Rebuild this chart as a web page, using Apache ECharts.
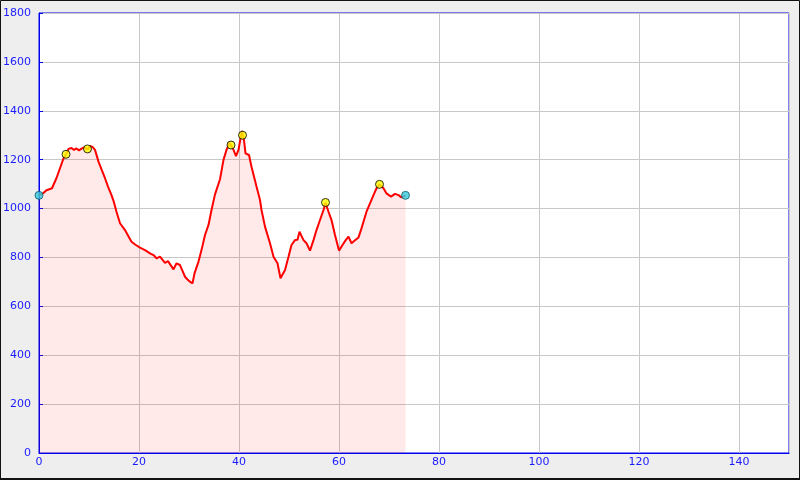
<!DOCTYPE html>
<html>
<head>
<meta charset="utf-8">
<script src="https://cdn.jsdelivr.net/npm/echarts@6/dist/echarts.min.js"></script>
<style>
html,body{margin:0;padding:0;background:#eeeeee;}
#chart{width:800px;height:480px;}
</style>
</head>
<body>
<div id="chart"></div>
<script>
// Distance along route (km)
const distKm = [0,0.7,1.5,2.6,2.9,3.5,4.2,4.9,5.4,5.9,6.5,7.0,7.5,8.0,8.5,9.0,9.7,10.2,10.7,11.2,11.9,12.5,13.2,13.8,14.5,15.0,15.5,16.2,17.2,17.8,18.5,19.3,20.2,21.2,22.2,23.0,23.5,24.2,25.2,25.8,26.2,26.9,27.5,28.2,28.7,29.2,29.7,30.2,30.7,31.1,31.9,32.5,33.2,33.9,34.5,35.2,36.2,36.9,37.5,38.1,38.5,38.9,39.4,39.9,40.3,40.6,41.0,41.3,42.0,42.5,43.5,44.2,44.5,45.2,46.2,46.9,47.7,48.3,49.2,49.9,50.5,51.2,51.7,52.1,52.9,53.5,54.2,54.9,55.5,56.2,56.9,57.3,57.9,58.5,59.2,60.0,60.7,61.3,61.9,62.5,63.2,63.9,64.5,65.5,66.2,66.9,67.5,68.1,68.9,69.5,70.4,71.2,71.9,72.4,73.3];
// Elevation (m)
const elevM = [1054,1061,1075,1083,1090,1125,1165,1205,1222,1244,1248,1240,1246,1238,1245,1250,1242,1256,1252,1240,1192,1160,1124,1090,1055,1025,987,940,912,890,864,852,840,830,817,808,796,803,778,785,790,751,776,769,745,721,710,701,694,735,783,830,892,933,994,1058,1120,1199,1240,1270,1262,1240,1215,1240,1287,1317,1280,1226,1219,1171,1090,1035,994,926,858,803,776,715,749,803,851,871,872,905,871,858,828,871,912,953,994,1024,987,953,892,828,851,870,885,858,870,882,919,987,1021,1055,1083,1099,1083,1062,1049,1060,1055,1046,1054];
// Start / end markers
const endX = [0, 73.3];
const endY = [1054, 1054];
// Summit markers
const peakX = [5.4, 9.7, 38.4, 40.7, 57.3, 68.1];
const peakY = [1222, 1244, 1260, 1300, 1025, 1099];

const zip = (a, b) => a.map((v, i) => [v, b[i]]);
const blue = '#1a1aff';

const chart = echarts.init(document.getElementById('chart'));
chart.setOption({
  backgroundColor: '#eeeeee',
  animation: false,
  textStyle: { fontFamily: 'DejaVu Sans' },
  grid: {
    left: 39, right: 11, top: 13, bottom: 27,
    containLabel: false, outerBoundsMode: 'none',
    show: true, backgroundColor: '#ffffff', borderColor: '#0000ee', borderWidth: 1
  },
  xAxis: {
    type: 'value', min: 0, max: 150, interval: 20,
    axisLine: { show: true, lineStyle: { color: '#0000ee', width: 1 } },
    axisTick: { show: false },
    axisLabel: { color: blue, fontSize: 11, margin: 4, showMaxLabel: false, fontFamily: 'DejaVu Sans',
      formatter: v => String(v) },
    splitLine: { show: true, lineStyle: { color: '#c8c8c8', width: 1 } }
  },
  yAxis: {
    type: 'value', min: 0, max: 1800, interval: 200,
    axisLine: { show: true, lineStyle: { color: '#0000ee', width: 1 } },
    axisTick: { show: true, inside: true, length: 4, lineStyle: { color: '#0000ee' } },
    axisLabel: { color: blue, fontSize: 11, margin: 8, fontFamily: 'DejaVu Sans',
      formatter: v => String(v) },
    splitLine: { show: true, lineStyle: { color: '#c8c8c8', width: 1 } }
  },
  graphic: [
    { type: 'rect', silent: true, z: 100, shape: { x: 0.5, y: 0.5, width: 799, height: 478.5 },
      style: { fill: 'none', stroke: '#111', lineWidth: 1 } },
    { type: 'line', silent: true, z: 100, shape: { x1: 0, y1: 479, x2: 800, y2: 479 },
      style: { stroke: '#111', lineWidth: 2 } }
  ],
  series: [
    {
      type: 'line', data: zip(distKm, elevM), showSymbol: false, symbol: 'none',
      lineStyle: { color: '#ff0000', width: 2 },
      areaStyle: { color: 'rgba(255,0,0,0.12)' },
      z: 2
    },
    {
      type: 'scatter', data: zip(peakX, peakY), symbol: 'circle', symbolSize: 8,
      itemStyle: { color: '#ffff00', borderColor: '#000000', borderWidth: 1 }, z: 3
    },
    {
      type: 'scatter', data: zip(endX, endY), symbol: 'circle', symbolSize: 8,
      itemStyle: { color: '#33ccdd', borderColor: '#115566', borderWidth: 1 }, z: 3
    }
  ]
});
</script>
</body>
</html>
